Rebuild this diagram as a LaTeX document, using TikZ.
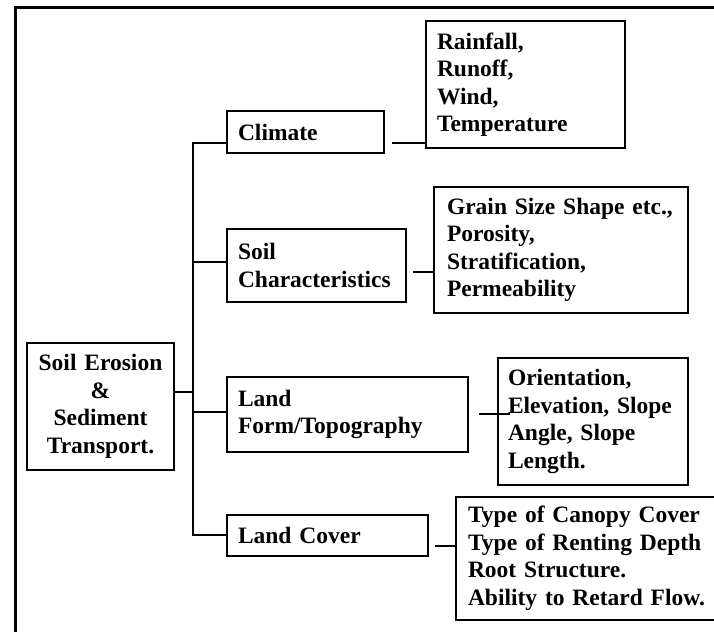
\documentclass[tikz,border=0pt]{standalone}
\usepackage{fontspec}
\setmainfont{Liberation Serif}
\begin{document}
\begin{tikzpicture}[x=1pt,y=1pt,
  box/.style={draw,line width=2.8pt,rectangle,inner ysep=0pt,outer sep=0pt,
    font=\bfseries\fontsize{23.5}{27.5}\selectfont},
  lbox/.style={box,align=left,inner xsep=11pt},
  cbox/.style={box,align=center,inner xsep=4pt},
  conn/.style={line width=2.6pt},
  frame/.style={line width=3pt}]
\useasboundingbox (0,0) rectangle (714,-632);
% outer frame
\coordinate (fa) at (714,-7);
\coordinate (fb) at (15,-7);
\coordinate (fc) at (15,-632);
\draw[frame] (fa) -- (fb) -- (fc);
% main box
\node[cbox,minimum width=147pt,minimum height=127pt,text width=139pt] (main) at (100.5,-406.5)
  {Soil Erosion\\ \&\\ Sediment\\ Transport.};
% factor boxes
\node[lbox,minimum width=157pt,minimum height=42pt,text width=135pt] (clim) at (305.5,-132) {Climate};
\node[lbox,minimum width=179pt,minimum height=73pt,text width=157pt] (soil) at (316.5,-265.5) {Soil\\ Characteristics};
\node[lbox,minimum width=241pt,minimum height=75pt,text width=219pt] (form) at (347.5,-414.5) {Land\\ Form/Topography};
\node[lbox,minimum width=201pt,minimum height=41pt,text width=179pt] (cover) at (327.5,-535.5) {Land Cover};
% detail boxes
\node[lbox,minimum width=199pt,minimum height=127pt,text width=177pt] (climD) at (525.5,-84.5)
  {Rainfall,\\ Runoff,\\ Wind,\\ Temperature};
\node[lbox,minimum width=254pt,minimum height=126pt,text width=228pt,inner xsep=13pt] (soilD) at (561,-250)
  {Grain Size Shape etc.,\\ Porosity,\\ Stratification,\\ Permeability};
\node[lbox,minimum width=190pt,minimum height=127pt,text width=170pt,inner xsep=10pt] (formD) at (593,-421.5)
  {Orientation,\\ Elevation, Slope\\ Angle, Slope\\ Length.};
\node[lbox,minimum width=274pt,minimum height=123pt,text width=250pt,inner xsep=12pt] (coverD) at (593,-558.5)
  {Type of Canopy Cover\\ Type of Renting Depth\\ Root Structure.\\ Ability to Retard Flow.};
% trunk
\coordinate (t1) at (193,-392);
\coordinate (tc) at (193,-143);
\coordinate (tcov) at (193,-535);
\draw[conn] (main.east |- t1) -- (t1);
\draw[conn] (clim.west |- tc) -- (tc) -- (tcov) -- (cover.west |- tcov);
\coordinate (ts) at (193,-262);
\coordinate (tf) at (193,-412);
\draw[conn] (ts) -- (soil.west |- ts);
\draw[conn] (tf) -- (form.west |- tf);
% right connectors
\coordinate (r1) at (392,-143);
\draw[conn] (r1) -- (r1 -| climD.west);
\coordinate (r2) at (413,-272);
\draw[conn] (r2) -- (r2 -| soilD.west);
\coordinate (r3) at (479,-414);
\coordinate (r3e) at (510,-414);
\draw[conn] (r3) -- (r3e);
\coordinate (r4) at (435,-546);
\draw[conn] (r4) -- (r4 -| coverD.west);
\end{tikzpicture}
\end{document}
